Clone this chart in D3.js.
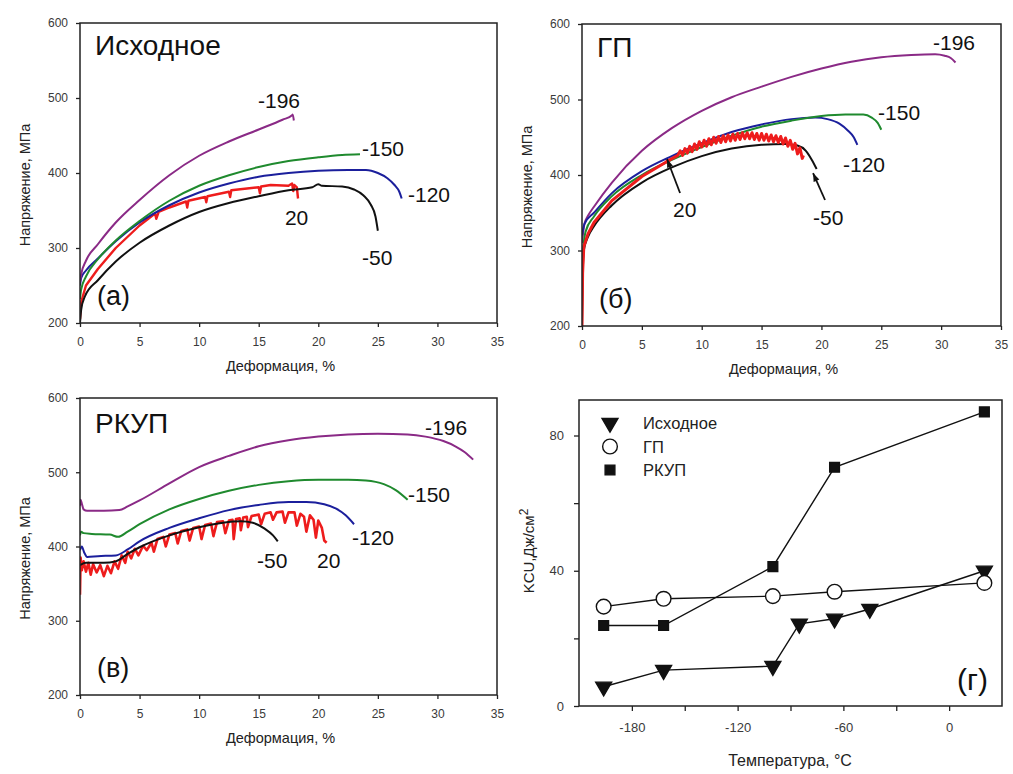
<html>
<head>
<meta charset="utf-8">
<script src="https://d3js.org/d3.v7.min.js"></script>
<style>
  body { margin: 0; background: #fff; }
  svg { font-family: "Liberation Sans", Arial, sans-serif; }
  .tick text { fill: #3a3a3a; }
</style>
</head>
<body>
<svg id="fig" width="1013" height="774"></svg>
<script>
// ---- data ----
// strain (%) vs stress (MPa), one array per test temperature

// (а) Исходное
var a196 = [[0,255],[0.1,265],[0.5,283],[1.5,305],[3,334],[5,364],[7.5,397],[10,423],[12.5,442],[15,458],[17,471],[17.8,477],[17.85,478],[17.95,470]];
var a150 = [[0,232],[0.1,245],[0.5,262],[1.5,285],[3,310],[5,336],[7.5,363],[10,383],[12.5,397],[15,408],[17.5,416],[20,421],[22,424],[23.5,425]];
var a120 = [[0,250],[0.1,260],[0.5,270],[1.5,286],[3,309],[5,334],[7.5,357],[10,374],[12.5,386],[15,395],[17.5,400],[20,403],[22.5,404],[24,404],[25,400],[25.8,393],[26.4,384],[26.8,375],[27,366]];
var a50  = [[0,200],[0.1,218],[0.4,235],[1.5,257],[3,282],[5,307],[7.5,330],[10,348],[12.5,360],[15,369],[17.5,377],[19.5,381],[20,385],[20.3,383],[22,382],[23,378],[23.8,370],[24.4,358],[24.8,342],[25,323]];
var a20  = [[0,205],[0.1,228],[0.5,250],[1.5,272],[3,300],[5,330],[6.3,346],[6.4,339],[6.6,348],[7.5,354],[8.9,362],[9,354],[9.1,363],[10.5,368],[10.6,361],[10.7,369],[12.5,375],[12.6,368],[12.7,377],[15,381],[15.1,373],[15.2,382],[16,384],[17.5,383],[17.8,386],[17.9,376],[18,384],[18.2,381],[18.3,366]];

// (б) ГП
var b196 = [[0,310],[0.2,335],[0.5,346],[1,358],[2.5,390],[5,432],[7.5,462],[10,485],[12.5,503],[15,517],[17.5,530],[20,541],[22.5,550],[25,556],[27.5,559],[29.5,560],[30.3,558],[30.8,555],[31.2,549]];
var b150 = [[0,270],[0.1,300],[0.3,325],[1,345],[2.5,372],[5,400],[7.5,420],[10,437],[12.5,452],[15,464],[17.5,472],[20,478],[22,480],[23.5,480],[24.2,476],[24.7,469],[25,460]];
var b120 = [[0,320],[0.2,335],[1,350],[2.5,376],[5,405],[7.5,425],[10,442],[12.5,457],[15,467],[17.5,474],[19.5,476],[20.5,474],[21.5,468],[22.2,459],[22.7,450],[23,440]];
var b50  = [[0,200],[0.05,260],[0.15,300],[0.5,318],[1,332],[2.5,360],[5,390],[7.5,410],[10,425],[12.5,435],[15,440],[17,441],[18,439],[18.7,432],[19.2,420],[19.6,408]];
var b20  = [[0,200],[0.05,270],[0.15,305],[0.5,322],[1,337],[2.5,366],[5,398],[7,417],[8,426],[8.2,432],[8.4,426],[8.6,435],[8.8,429],[9,438],[9.2,431],[9.4,441],[9.6,434],[9.8,444],[10,437],[10.2,446],[10.4,438],[10.6,448],[10.8,440],[11,450],[11.2,442],[11.4,451],[11.6,443],[11.8,452],[12,444],[12.2,453],[12.4,445],[12.6,454],[12.8,446],[13,455],[13.2,447],[13.4,456],[13.6,448],[13.8,456],[14,448],[14.2,456],[14.4,447],[14.6,455],[14.8,446],[15,455],[15.2,446],[15.4,454],[15.6,445],[15.8,453],[16,444],[16.2,452],[16.4,443],[16.6,451],[16.8,441],[17,449],[17.2,438],[17.4,446],[17.6,434],[17.8,442],[18,428],[18.2,436],[18.4,422],[18.5,426]];

// (в) РКУП
var c196 = [[0,455],[0.05,463],[0.15,458],[0.3,450],[0.6,448],[2,448],[3.3,449],[4,454],[5,462],[7.5,485],[10,507],[12.5,522],[15,535],[17.5,543],[20,548],[22.5,551],[25,552],[27.5,551],[29,548],[30.5,542],[31.5,535],[32.3,527],[33,517]];
var c150 = [[0,415],[0.1,420],[0.3,418],[1,417],[2.5,416],[3.2,413],[4,420],[5,430],[7.5,450],[10,464],[12.5,475],[15,483],[17.5,488],[20,490],[22.5,490],[24,489],[25.5,484],[26.5,476],[27.5,463]];
var c120 = [[0,395],[0.15,400],[0.35,392],[0.6,386],[1.5,387],[3,388],[4,396],[5,407],[7.5,425],[10,438],[12.5,449],[15,456],[17.5,460],[19,460],[20.5,457],[21.5,451],[22.3,442],[23,430]];
var c50  = [[0,375],[0.5,378],[2,378],[3,380],[4,390],[5,399],[7.5,415],[10,426],[12,432],[13.5,434],[14.5,432],[15.5,424],[16.2,415],[16.6,407]];
var c20  = [[0,335],[0.05,385],[0.15,368],[0.3,380],[0.5,366],[0.7,378],[0.9,362],[1.1,376],[1.4,365],[1.7,375],[2,360],[2.3,374],[2.6,364],[2.9,380],[3.2,370],[3.5,388],[3.8,378],[4,393],[4.3,384],[4.6,397],[4.9,388],[5.3,401],[5.6,395],[6,405],[6.2,393],[6.5,410],[7,413],[7.2,400],[7.5,416],[8,418],[8.2,404],[8.5,421],[9,423],[9.2,408],[9.5,425],[10,427],[10.2,410],[10.5,429],[11,431],[11.2,414],[11.5,433],[12,434],[12.2,418],[12.5,435],[12.8,436],[12.9,410],[13.1,437],[13.4,438],[13.5,422],[13.7,439],[14,440],[14.1,426],[14.4,441],[15,443],[15.2,430],[15.5,444],[16,446],[16.2,436],[16.5,446],[17,447],[17.2,432],[17.5,446],[18,446],[18.2,428],[18.5,444],[18.8,440],[19,420],[19.3,442],[19.6,436],[19.8,412],[20,435],[20.3,425],[20.5,408],[20.7,405]];

var strainTicks = [0,5,10,15,20,25,30,35];
var stressTicks = [200,300,400,500,600];

// (г) KCU vs temperature
var tIsh = [-196,-162,-100,-85,-65,-45,20];
var kIsh = [5.7,10.6,11.8,24.3,25.8,28.7,40];
var tGP  = [-196,-162,-100,-65,20];
var kGP  = [29.4,31.7,32.5,33.8,36.4];
var tRK  = [-196,-162,-100,-65,20];
var kRK  = [23.8,23.8,41.2,70.6,87];
var seriesNames = ["Исходное", "ГП", "РКУП"];
var tempTicks = [-180,-150,-120,-90,-60,-30,0];
var tempTickLabels = [-180,-120,-60,0];
var kcuTicks = [0,20,40,60,80];
var kcuTickLabels = [0,40,80];

// ---- drawing ----
var svg = d3.select("#fig");
var colors = {"-196": "#8a2a86", "-150": "#1f8a2e", "-120": "#1b1f9c", "-50": "#111111", "20": "#ee1c1c"};

function stressPanel(p){
  var x = d3.scaleLinear().domain([0,35]).range([p.left, p.right]);
  var y = d3.scaleLinear().domain([200,600]).range([p.bottom, p.top]);
  var g = svg.append("g");

  var clipId = "clip" + p.id;
  svg.append("clipPath").attr("id", clipId).append("rect")
    .attr("x", p.left).attr("y", p.top)
    .attr("width", p.right - p.left).attr("height", p.bottom - p.top);

  var smooth = d3.line().x(function(d){ return x(d[0]); }).y(function(d){ return y(d[1]); })
    .curve(d3.curveMonotoneX);
  var jagged = d3.line().x(function(d){ return x(d[0]); }).y(function(d){ return y(d[1]); });

  var cg = g.append("g").attr("clip-path", "url(#" + clipId + ")");
  p.order.forEach(function(k){
    var isRed = (k === "20");
    cg.append("path")
      .attr("d", (isRed ? jagged : smooth)(p.curves[k]))
      .attr("fill", "none")
      .attr("stroke", colors[k])
      .attr("stroke-width", isRed ? p.redWidth : 2)
      .attr("stroke-linejoin", "round");
  });

  // frame
  g.append("rect").attr("x", p.left).attr("y", p.top)
    .attr("width", p.right - p.left).attr("height", p.bottom - p.top)
    .attr("fill", "none").attr("stroke", "#222").attr("stroke-width", 1.5);

  var xa = g.append("g").attr("transform", "translate(0," + p.bottom + ")")
    .call(d3.axisBottom(x).tickValues(strainTicks).tickSize(4).tickPadding(10));
  var ya = g.append("g").attr("transform", "translate(" + p.left + ",0)")
    .call(d3.axisLeft(y).tickValues(stressTicks).tickSize(4).tickPadding(8));
  [xa, ya].forEach(function(a){
    a.select(".domain").remove();
    a.selectAll(".tick line").attr("stroke", "#222").attr("stroke-width", 1.3);
    a.selectAll(".tick text").style("font-size", "12px");
  });

  // axis titles
  g.append("text").attr("x", (p.left + p.right) / 2 - 8).attr("y", p.bottom + 48)
    .attr("text-anchor", "middle").style("font-size", "14.5px").attr("fill", "#222")
    .text("Деформация, %");
  g.append("text")
    .attr("transform", "translate(" + (p.left - 50) + "," + ((p.top + p.bottom) / 2 + 12) + ") rotate(-90)")
    .attr("text-anchor", "middle").style("font-size", "14.5px").attr("fill", "#222")
    .text("Напряжение, МПа");

  // panel title and letter
  g.append("text").attr("x", p.left + 15).attr("y", p.top + p.titleDy)
    .style("font-size", "28px").attr("fill", "#111").text(p.title);
  g.append("text").attr("x", p.left + 17).attr("y", p.bottom - 18)
    .style("font-size", "27px").attr("fill", "#111").text(p.letter);

  // curve labels, placed in data units
  p.labels.forEach(function(l){
    g.append("text").attr("x", x(l[1])).attr("y", y(l[2]))
      .style("font-size", "21px").attr("fill", "#111").text(l[0]);
  });

  // arrows
  (p.arrows || []).forEach(function(a){
    var x1 = x(a[0]), y1 = y(a[1]), x2 = x(a[2]), y2 = y(a[3]);
    g.append("line").attr("x1", x1).attr("y1", y1).attr("x2", x2).attr("y2", y2)
      .attr("stroke", "#111").attr("stroke-width", 1.8);
    var ang = Math.atan2(y2 - y1, x2 - x1);
    var h = 9, w = 0.35;
    var pts = [[x2, y2],
      [x2 - h * Math.cos(ang - w), y2 - h * Math.sin(ang - w)],
      [x2 - h * Math.cos(ang + w), y2 - h * Math.sin(ang + w)]];
    g.append("path").attr("d", "M" + pts.join("L") + "Z").attr("fill", "#111");
  });
}

stressPanel({
  id: "a", left: 80, right: 497, top: 23, bottom: 323,
  title: "Исходное", titleDy: 32, letter: "(a)", redWidth: 2.4,
  curves: {"-196": a196, "-150": a150, "-120": a120, "-50": a50, "20": a20},
  order: ["20", "-50", "-120", "-150", "-196"],
  labels: [["-196", 14.94, 486.7], ["-150", 23.67, 422.7], ["-120", 27.53, 361.3], ["20", 17.2, 330.7], ["-50", 23.67, 277.3]]
});

stressPanel({
  id: "b", left: 582, right: 1001, top: 24, bottom: 326,
  title: "ГП", titleDy: 33, letter: "(б)", redWidth: 3,
  curves: {"-196": b196, "-150": b150, "-120": b120, "-50": b50, "20": b20},
  order: ["-196", "-120", "-150", "-50", "20"],
  labels: [["-196", 29.32, 565.6], ["-150", 24.73, 472.8], ["-120", 21.8, 404], ["20", 7.6, 344.4], ["-50", 19.3, 333.8]],
  arrows: [[8.19, 376.2, 7.1, 421.2], [20.3, 366.9, 19.3, 402.6]]
});

stressPanel({
  id: "c", left: 80, right: 497, top: 398, bottom: 695,
  title: "РКУП", titleDy: 35, letter: "(в)", redWidth: 2.6,
  curves: {"-196": c196, "-150": c150, "-120": c120, "-50": c50, "20": c20},
  order: ["-196", "-150", "-120", "20", "-50"],
  labels: [["-196", 28.96, 550.2], ["-150", 27.53, 460], ["-120", 22.83, 402], ["-50", 14.86, 371], ["20", 19.9, 371]]
});

// ---- panel (г) ----
(function(){
  var left = 579, right = 1002, top = 400, bottom = 706;
  var x = d3.scaleLinear().domain([-210, 30]).range([left, right]);
  var y = d3.scaleLinear().domain([0, 90.5]).range([bottom, top]);
  var g = svg.append("g");

  var sets = [
    {name: seriesNames[0], t: tIsh, k: kIsh, sym: d3.symbolTriangle, size: 110, fill: "#111", flip: true},
    {name: seriesNames[1], t: tGP, k: kGP, sym: d3.symbolCircle, size: 170, fill: "#fff", flip: false},
    {name: seriesNames[2], t: tRK, k: kRK, sym: d3.symbolSquare, size: 95, fill: "#111", flip: false}
  ];

  var line = d3.line().x(function(d){ return x(d[0]); }).y(function(d){ return y(d[1]); });
  sets.forEach(function(s){
    var pts = d3.zip(s.t, s.k);
    g.append("path").attr("d", line(pts)).attr("fill", "none")
      .attr("stroke", "#111").attr("stroke-width", 1.4);
  });
  sets.forEach(function(s){
    var pts = d3.zip(s.t, s.k);
    g.selectAll(null).data(pts).enter().append("path")
      .attr("d", d3.symbol().type(s.sym).size(s.size))
      .attr("transform", function(d){ return "translate(" + x(d[0]) + "," + y(d[1]) + ")" + (s.flip ? " rotate(180)" : ""); })
      .attr("fill", s.fill).attr("stroke", "#111").attr("stroke-width", 1.4);
  });

  g.append("rect").attr("x", left).attr("y", top)
    .attr("width", right - left).attr("height", bottom - top)
    .attr("fill", "none").attr("stroke", "#222").attr("stroke-width", 1.5);

  var xa = g.append("g").attr("transform", "translate(0," + bottom + ")")
    .call(d3.axisBottom(x).tickValues(tempTicks).tickSize(5).tickPadding(12)
      .tickFormat(function(d){ return tempTickLabels.indexOf(d) >= 0 ? d : ""; }));
  var ya = g.append("g").attr("transform", "translate(" + left + ",0)")
    .call(d3.axisLeft(y).tickValues(kcuTicks).tickSize(5).tickPadding(10)
      .tickFormat(function(d){ return kcuTickLabels.indexOf(d) >= 0 ? d : ""; }));
  [xa, ya].forEach(function(a){
    a.select(".domain").remove();
    a.selectAll(".tick line").attr("stroke", "#222").attr("stroke-width", 1.3);
    a.selectAll(".tick text").style("font-size", "13px");
  });

  g.append("text").attr("x", 790).attr("y", bottom + 60)
    .attr("text-anchor", "middle").style("font-size", "16px").attr("fill", "#222")
    .text("Температура, °C");
  var yl = g.append("text")
    .attr("transform", "translate(" + (left - 45) + "," + ((top + bottom) / 2 - 2) + ") rotate(-90)")
    .attr("text-anchor", "middle").style("font-size", "15px").attr("fill", "#222");
  yl.append("tspan").text("KCU,Дж/см");
  yl.append("tspan").attr("dy", -6).style("font-size", "12px").text("2");

  // legend
  sets.forEach(function(s, i){
    var ly = top + 23 + i * 23.5;
    g.append("path").attr("d", d3.symbol().type(s.sym).size(s.size))
      .attr("transform", "translate(610," + ly + ")" + (s.flip ? " rotate(180)" : ""))
      .attr("fill", s.fill).attr("stroke", "#111").attr("stroke-width", 1.4);
    g.append("text").attr("x", 643).attr("y", ly + 6)
      .style("font-size", "16.5px").attr("fill", "#222").text(s.name);
  });

  g.append("text").attr("x", 957).attr("y", 690)
    .style("font-size", "30px").attr("fill", "#111").text("(г)");
})();
</script>
</body>
</html>
